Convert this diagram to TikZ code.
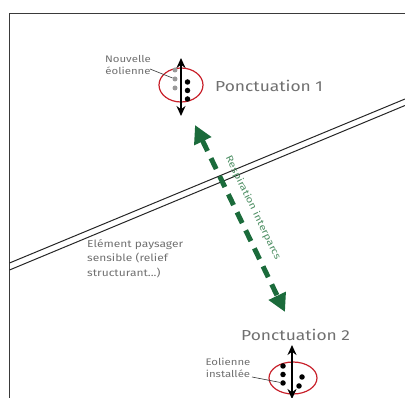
\documentclass[tikz,border=0pt]{standalone}
\usepackage{fontspec}
\setmainfont{Fira Sans}
\newfontfamily\handfont[FakeStretch=1.2]{Fira Sans}
\usetikzlibrary{arrows.meta,shapes.geometric}
\definecolor{ellred}{HTML}{C8202A}
\definecolor{dgreen}{HTML}{1B6B3B}
\definecolor{tgreen}{HTML}{4E8F64}
\definecolor{tgray}{HTML}{707070}
\definecolor{fgray}{HTML}{3A3A3A}
\tikzset{
  framestyle/.style={draw=fgray, line width=1.4pt},
  relief/.style={draw=black!85, line width=1pt},
  zone/.style={draw=ellred, line width=1.2pt, ellipse, minimum width=#1},
  mast/.style={draw=black, line width=2.6pt, {Stealth[length=10pt,width=9pt]}-{Stealth[length=10pt,width=9pt]}},
  greenarrow/.style={draw=dgreen, line width=5pt, dash pattern=on 12pt off 8pt,
     {Triangle[length=18pt,width=18pt]}-{Triangle[length=18pt,width=18pt]}},
  bigtxt/.style={text=tgray, font=\handfont\fontsize{14.5}{16}\selectfont, inner sep=0pt},
  smalltxt/.style={text=tgray, font=\handfont\fontsize{9.5}{12}\selectfont, inner sep=0pt, align=center},
  midtxt/.style={text=tgray, font=\handfont\fontsize{10}{14.4}\selectfont, inner sep=0pt, align=left},
  newdot/.style={fill=black!40, circle, inner sep=0pt, minimum size=5pt},
  olddot/.style={fill=black, circle, inner sep=0pt, minimum size=5.5pt},
  pointer/.style={draw=black!80, line width=0.6pt},
}
\begin{document}
\begin{tikzpicture}[x=1pt,y=-1pt]
\useasboundingbox (0,0) rectangle (405,398);
% frame
\coordinate (fr) at (405,13.5);
\coordinate (fc) at (9.5,13.5);
\coordinate (fb) at (9.5,398);
\draw[framestyle] (fr) -- (fc) -- (fb);
% relief double line
\coordinate (ra1) at (9.5,263);
\coordinate (ra2) at (405,99);
\coordinate (rb1) at (9.5,270);
\coordinate (rb2) at (405,105.5);
\draw[relief] (ra1) -- (ra2);
\draw[relief] (rb1) -- (rb2);
% ponctuation 1
\node[zone=44pt, minimum height=34pt, inner sep=0pt] (e1) at (181,85) {};
\node[newdot] (g1) at (175,70) {};
\node[newdot] (g2) at (175,79) {};
\node[newdot] (g3) at (175,88) {};
\node[olddot] (b1) at (187.5,82) {};
\node[olddot] (b2) at (187.5,90.5) {};
\node[olddot] (b3) at (187.5,99) {};
\coordinate (m1t) at (181,58);
\coordinate (m1b) at (181,116);
\draw[mast] (m1t) -- (m1b);
\node[bigtxt, anchor=west] (p1) at (215,86) {Ponctuation 1};
\node[smalltxt] (nv) at (128,64.5) {Nouvelle\\éolienne};
\coordinate (nvp) at (150,69);
\draw[pointer] (nvp) -- (g2);
% ponctuation 2
\node[zone=48pt, minimum height=32pt, inner sep=0pt] (e2) at (293,378) {};
\node[olddot] (c1) at (283,366) {};
\node[olddot] (c2) at (283,374.5) {};
\node[olddot] (c3) at (283,383) {};
\node[olddot] (c4) at (302,377) {};
\node[olddot] (c5) at (299,386) {};
\coordinate (m2t) at (292,345);
\coordinate (m2b) at (292,399);
\draw[mast] (m2t) -- (m2b);
\node[bigtxt, anchor=west] (p2) at (241,335) {Ponctuation 2};
\node[smalltxt] (ei) at (228,367.5) {Eolienne\\installée};
\coordinate (eip) at (252,377);
\draw[pointer] (eip) -- (c3);
% element paysager
\node[midtxt, anchor=north west] (ep) at (87,239) {Elément paysager\\sensible (relief\\structurant...)};
% respiration
\coordinate (gt) at (195,125);
\coordinate (gb) at (285,312);
\draw[greenarrow] (gt) -- (gb);
\node[text=tgreen, font=\handfont\fontsize{9.5}{11}\selectfont, rotate=-64, inner sep=0pt] (resp) at (253,208) {Respiration interparcs};
\end{tikzpicture}
\end{document}
